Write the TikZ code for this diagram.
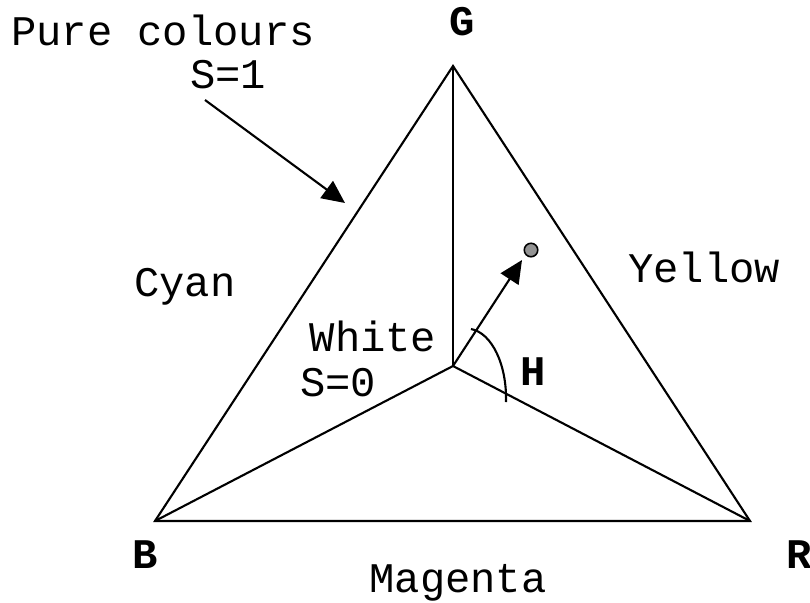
\documentclass[tikz,border=0pt]{standalone}
\usepackage{fontspec}
\setmonofont{Liberation Mono}
\usetikzlibrary{arrows.meta,calc,positioning}
\tikzset{
  side/.style={line width=1.2pt},
  spoke/.style={line width=1.2pt},
  ptr/.style={-{Triangle[length=13pt,width=12pt]},line width=1.2pt},
  lbl/.style={font=\fontsize{24}{28}\selectfont\ttfamily,inner sep=0pt},
  vlbl/.style={font=\fontsize{24}{28}\selectfont\ttfamily\bfseries,inner sep=0pt},
  huedot/.style={circle,draw,fill=gray!85,line width=0.9pt,inner sep=0pt,minimum size=0.27cm}
}
\begin{document}
\begin{tikzpicture}[x=0.02cm,y=-0.02cm]
\useasboundingbox (0,0) rectangle (810,602);
% corners of the colour triangle and the white point
\coordinate (G) at (453,66);
\coordinate (B) at (155,521);
\coordinate (R) at (750,521);
\coordinate (W) at (453,366);
\draw[side] (G)--(B)--(R)--cycle;

% spokes from white to the primaries
\draw[spoke] (W)--(G);
\draw[spoke] (W)--(B);
\draw[spoke] (W)--(R);

% vertex labels
\node[vlbl] (lG) at (462,22) {G};
\node[vlbl] (lB) at (145,555) {B};
\node[vlbl] (lR) at (799,555) {R};

% secondary colours on the sides
\node[lbl] (cyan) at (185,287) {Cyan};
\node[lbl] (yellow) at (704,267) {Yellow};
\node[lbl] (magenta) at (458,583) {Magenta};

% saturation notes
\node[lbl] (pure) at (163,30) {Pure colours};
\node[lbl] (s1) at (228,75) {S=1};
\node[lbl] (white) at (373,336) {White};
\node[lbl] (s0) at (338,383) {S=0};
\coordinate (s1from) at (205,100);
\coordinate (edgept) at (345,203);
\draw[ptr] (s1from)--(edgept);

% hue vector and angle
\node[huedot] (dot) at (531,250) {};
\coordinate (tip) at (522,260);
\draw[ptr] (W)--(tip);
\coordinate (hs) at (471,329);
\coordinate (he) at (506,402);
\draw[spoke] (hs) .. controls (492,333) and (507,365) .. (he);
\node[vlbl] (H) at (533,372) {H};
\end{tikzpicture}
\end{document}
